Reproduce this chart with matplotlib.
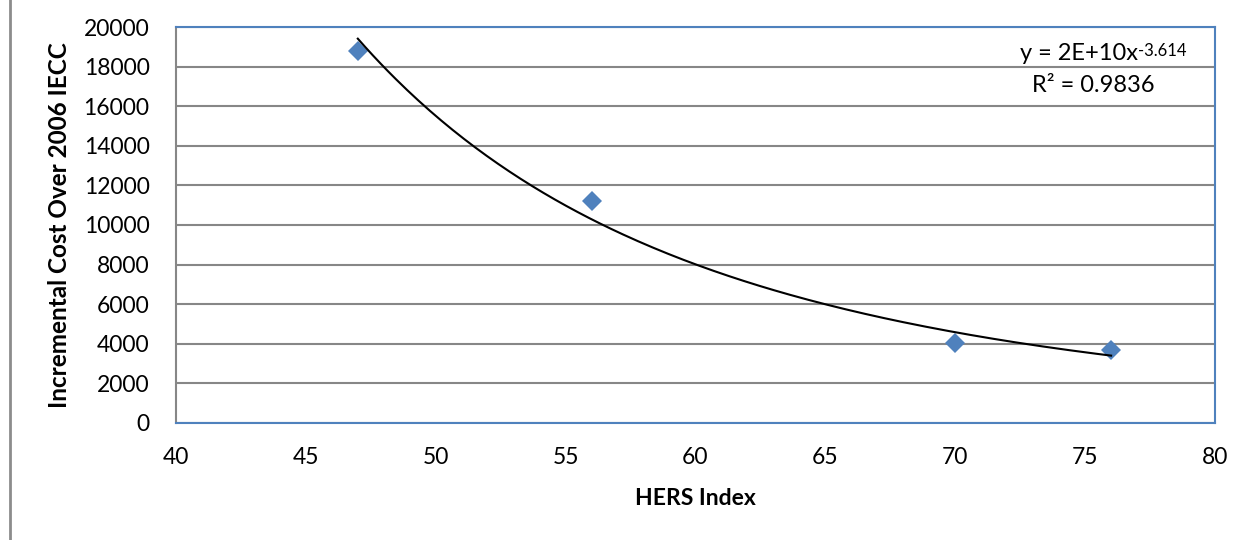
import numpy as np
import matplotlib.pyplot as plt
from matplotlib.lines import Line2D

plt.rcParams['font.family'] = ['Lato', 'DejaVu Sans']

# HERS index vs incremental cost
hers = [47, 56, 70, 76]
cost = [18800, 11200, 4030, 3670]

blue = '#4F81BD'
grid_gray = '#878787'

# power trendline, fit in log-log space like Excel
b, ln_a = np.polyfit(np.log(hers), np.log(cost), 1)
xf = np.linspace(min(hers), max(hers), 200)
yf = np.exp(ln_a) * xf ** b

fig = plt.figure(figsize=(12.57, 5.4), dpi=100)
ax = fig.add_axes([0.14, 0.2167, 0.8266, 0.7333])

ax.plot(hers, cost, 'D', color=blue, markersize=10, markeredgewidth=0, zorder=3)
ax.plot(xf, yf, color='black', lw=1.5, zorder=4)

ax.set_xlim(40, 80)
ax.set_ylim(0, 20000)
ax.set_xticks(range(40, 81, 5))
ax.set_yticks(range(0, 20001, 2000))
ax.yaxis.grid(True, color=grid_gray, lw=1.5)
ax.set_axisbelow(True)
ax.tick_params(length=0, labelsize=16.5)
ax.tick_params(axis='x', pad=17)
ax.tick_params(axis='y', pad=19)

for s in ['top', 'right', 'bottom']:
    ax.spines[s].set_color(blue)
    ax.spines[s].set_linewidth(1.5)
ax.spines['left'].set_color(grid_gray)
ax.spines['left'].set_linewidth(1.5)

ax.set_xlabel('HERS Index', fontsize=16.5, fontweight='bold', labelpad=15)
ax.set_ylabel('Incremental Cost Over 2006 IECC', fontsize=17.5, fontweight='bold', labelpad=9)

# trendline label
t1 = ax.text(0.812, 0.932, 'y = 2E+10x', transform=ax.transAxes,
             ha='left', va='center', fontsize=17)
ax.annotate('-3.614', xy=(1, 1.0), xycoords=t1, ha='left', va='top', fontsize=12)
ax.text(0.883, 0.853, 'R² = 0.9836', transform=ax.transAxes,
        ha='center', va='center', fontsize=17)

# chart area border on the left
fig.add_artist(Line2D([10 / 1257, 10 / 1257], [0, 1], color='#8C8C8C', lw=2))

fig.savefig('out.png', dpi=100)
